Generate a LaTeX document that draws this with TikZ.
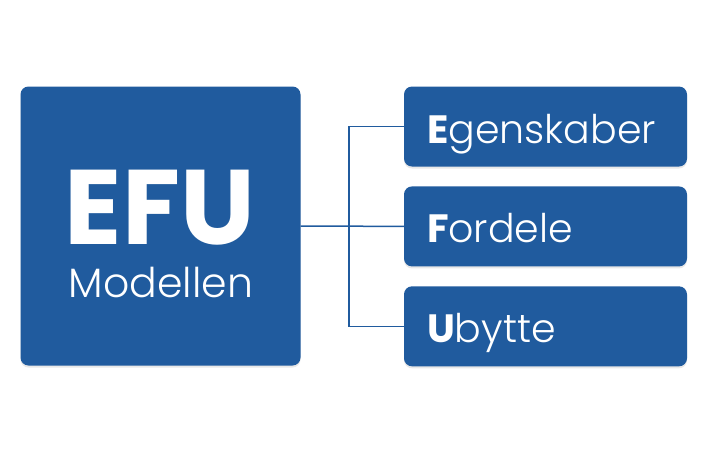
\documentclass[tikz,border=0pt]{standalone}
\usepackage{fontspec}
\IfFontExistsTF{Poppins Light}
  {\setmainfont{Poppins Light}[BoldFont=Poppins Bold]}
  {\setmainfont{Poppins}}
\usetikzlibrary{positioning,shadows}
\definecolor{efublue}{RGB}{32,91,158}

\begin{document}
\begin{tikzpicture}[
    x=1pt, y=-1pt,
    every node/.style={text=white},
    panel/.style={fill=efublue, rounded corners=8pt,
        drop shadow={opacity=0.18, shadow xshift=0pt, shadow yshift=-2pt}},
    mainbox/.style={panel, minimum width=280pt, minimum height=279pt, inner sep=0pt},
    itembox/.style={panel, minimum width=283pt, minimum height=80pt, text width=237pt,
        align=left, inner xsep=23pt, inner ysep=0pt, text height=33pt, text depth=0pt,
        font=\fontsize{39.5}{46}\selectfont},
    title/.style={anchor=base, inner sep=0pt, text depth=0pt},
    link/.style={draw=efublue, line width=1.5pt}
]
\useasboundingbox (0,0) rectangle (707,451);

% Model box
\node[mainbox] (efu) at (160.5,226) {};
\node[title, font=\fontsize{106}{120}\selectfont\bfseries] (efutitle) at (160,244) {EFU};
\node[title, font=\fontsize{41}{48}\selectfont] (modellen) at (161,297) {Modellen};

% Items
\node[itembox] (egenskaber) at (545.5,126.5) {\textbf{E}genskaber};
\node[itembox, below=19.5pt of egenskaber] (fordele) {\textbf{F}ordele};
\node[itembox, below=19.5pt of fordele] (ubytte) {\textbf{U}bytte};

% Connectors
\coordinate (fork) at (349,226);
\draw[link] (efu.east) -- (fordele.west);
\draw[link] (egenskaber.west) -| (fork) |- (ubytte.west);

\end{tikzpicture}
\end{document}
